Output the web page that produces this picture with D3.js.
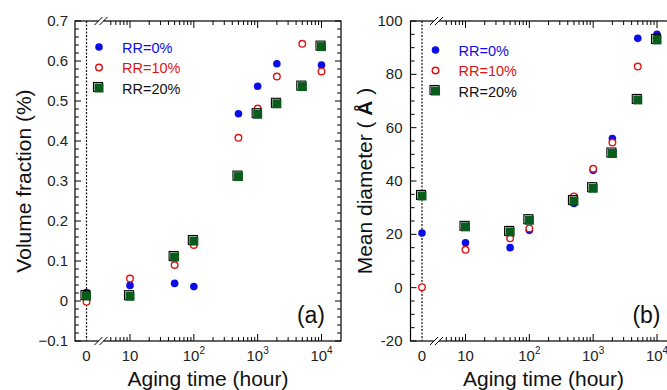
<!DOCTYPE html>
<html>
<head>
<meta charset="utf-8">
<script src="https://cdn.jsdelivr.net/npm/d3@7"></script>
<style>
  body { margin: 0; background: #fff; }
  text { font-family: Arial, "Liberation Sans", sans-serif; }
</style>
</head>
<body>
<div id="chart"></div>
<script>
// aging time (hours), 0 is drawn left of the axis break
var hours = [0, 10, 50, 100, 500, 1000, 2000, 5000, 10000];

// volume fraction (%)
var volRR0  = [0.021, 0.039, 0.044, 0.036, 0.468, 0.537, 0.593, null, 0.590];
var volRR10 = [-0.002, 0.056, 0.090, 0.140, 0.408, 0.481, 0.561, 0.643, 0.574];
var volRR20 = [0.0125, 0.012, 0.110, 0.150, 0.311, 0.467, 0.493, 0.536, 0.636];

// mean diameter (A)
var diaRR0  = [20.5, 16.8, 15.0, 21.5, 31.6, 44.0, 55.9, 93.5, 95.0];
var diaRR10 = [0.2, 14.2, 18.5, 22.2, 34.2, 44.6, 54.4, 82.9, null];
var diaRR20 = [34.4, 22.8, 20.9, 25.3, 32.5, 37.3, 50.3, 70.4, 92.9];

var seriesNames = ["RR=0%", "RR=10%", "RR=20%"];
var xMajor = [10, 100, 1000, 10000];
var volTicks = [-0.1, 0, 0.1, 0.2, 0.3, 0.4, 0.5, 0.6, 0.7];
var diaTicks = [-20, 0, 20, 40, 60, 80, 100];

var width = 667, height = 390;
var svg = d3.select("#chart").append("svg")
  .attr("width", width)
  .attr("height", height);

var blue = "#0c0ce6", red = "#dc1414", green = "#0a5c1c";

function drawPanel(o) {
  var w = 266, h = 320;
  var g = svg.append("g").attr("transform", "translate(" + o.left + ",21)");

  var xLog = d3.scaleLog().domain([10, 10000]).range([55, 246.5]);
  var zeroX = 11.5, breakX = 26;
  var x = function(d) { return d === 0 ? zeroX : xLog(d); };
  var y = d3.scaleLinear().domain(o.domain).range([h, 0]);

  // frame
  g.append("rect").attr("width", w).attr("height", h)
    .attr("fill", "none").attr("stroke", "#000").attr("stroke-width", 1.2);

  // dashed line at t = 0
  g.append("line").attr("x1", zeroX).attr("x2", zeroX).attr("y1", 0).attr("y2", h)
    .attr("stroke", "#111").attr("stroke-width", 1.2).attr("stroke-dasharray", "2,1.5");

  // log ticks (major + minor), top and bottom, pointing inward
  var minor = [];
  [1, 10, 100, 1000].forEach(function(dec) {
    for (var k = 2; k <= 9; k++) {
      var v = dec * k;
      if (xLog(v) > breakX + 6) minor.push(v);
    }
  });
  var tk = g.append("g").attr("stroke", "#000").attr("stroke-width", 1);
  xMajor.concat(minor).forEach(function(v) {
    var len = xMajor.indexOf(v) >= 0 ? 7 : 4;
    tk.append("line").attr("x1", xLog(v)).attr("x2", xLog(v)).attr("y1", h).attr("y2", h - len);
    tk.append("line").attr("x1", xLog(v)).attr("x2", xLog(v)).attr("y1", 0).attr("y2", len);
  });

  // y ticks, left and right
  y.ticks((o.domain[1] - o.domain[0]) / o.minorStep).forEach(function(v) {
    var isMajor = o.ticks.some(function(t) { return Math.abs(t - v) < 1e-9; });
    var len = isMajor ? 6 : 4;
    tk.append("line").attr("x1", 0).attr("x2", len).attr("y1", y(v)).attr("y2", y(v));
    tk.append("line").attr("x1", w).attr("x2", w - len).attr("y1", y(v)).attr("y2", y(v));
  });

  // axis break marks
  [0, h].forEach(function(yy) {
    g.append("rect").attr("x", breakX - 2.5).attr("y", yy - 1.5).attr("width", 5).attr("height", 3).attr("fill", "#fff");
    [-2.5, 2.5].forEach(function(dx) {
      g.append("line")
        .attr("x1", breakX + dx - 4).attr("y1", yy + 4)
        .attr("x2", breakX + dx + 4).attr("y2", yy - 4)
        .attr("stroke", "#000").attr("stroke-width", 1);
    });
  });

  // y tick labels
  g.selectAll(".ylab").data(o.ticks).enter().append("text")
    .attr("x", o.labelX).attr("y", function(d) { return y(d) + 5; })
    .attr("text-anchor", "end").style("font-size", "15px").attr("fill", "#222")
    .text(o.fmt);

  // x tick labels
  g.append("text").attr("x", zeroX).attr("y", 340).attr("text-anchor", "middle")
    .style("font-size", "15px").attr("fill", "#222").text("0");
  xMajor.forEach(function(v, i) {
    var t = g.append("text").attr("x", xLog(v)).attr("y", 340)
      .attr("text-anchor", "middle").style("font-size", "15px").attr("fill", "#222");
    t.append("tspan").text("10");
    if (i > 0) t.append("tspan").attr("dy", -7).style("font-size", "10px").text(i + 1);
  });

  // axis titles
  g.append("text").attr("x", w / 2).attr("y", 365).attr("text-anchor", "middle")
    .style("font-size", "21px").attr("fill", "#111").text("Aging time (hour)");
  var yt = g.append("text")
    .attr("transform", "translate(" + o.titleX + "," + (h / 2) + ") rotate(-90)")
    .attr("text-anchor", "middle").style("font-size", "21px").attr("fill", "#111");
  o.title(yt);

  // panel letter
  g.append("text").attr("x", w - 16).attr("y", 302).attr("text-anchor", "end")
    .style("font-size", "23px").attr("fill", "#111").text(o.letter);

  var pts = function(vals) {
    return hours.map(function(t, i) { return {t: t, v: vals[i]}; })
      .filter(function(d) { return d.v !== null; });
  };

  // RR=0% filled blue circles
  g.selectAll(".s0").data(pts(o.s0)).enter().append("circle")
    .attr("cx", function(d) { return x(d.t); }).attr("cy", function(d) { return y(d.v); })
    .attr("r", 3.8).attr("fill", blue);

  // RR=10% open red circles
  g.selectAll(".s1").data(pts(o.s1)).enter().append("circle")
    .attr("cx", function(d) { return x(d.t); }).attr("cy", function(d) { return y(d.v); })
    .attr("r", 3.3).attr("fill", "#fff").attr("stroke", red).attr("stroke-width", 1.4);

  // RR=20% green squares with dark offset edge
  var sq = g.selectAll(".s2").data(pts(o.s2)).enter().append("g")
    .attr("transform", function(d) { return "translate(" + x(d.t) + "," + y(d.v) + ")"; });
  drawSquare(sq);

  // legend
  var lg = g.append("g").attr("transform", "translate(" + o.legX + "," + o.legY + ")");
  var legColors = [blue, red, "#111"];
  seriesNames.forEach(function(name, i) {
    var row = lg.append("g").attr("transform", "translate(0," + (i * 20.5) + ")");
    if (i === 0) row.append("circle").attr("r", 3.8).attr("fill", blue);
    if (i === 1) row.append("circle").attr("r", 3.3).attr("fill", "#fff").attr("stroke", red).attr("stroke-width", 1.4);
    if (i === 2) drawSquare(row);
    row.append("text").attr("x", 23).attr("y", 5.5).style("font-size", "14.5px")
      .attr("fill", legColors[i]).text(name);
  });
}

function drawSquare(sel) {
  sel.append("rect").attr("x", -5.5).attr("y", -5.5).attr("width", 9).attr("height", 9)
    .attr("fill", "none").attr("stroke", "#000").attr("stroke-width", 1.1);
  sel.append("rect").attr("x", -4.5).attr("y", -4.5).attr("width", 9).attr("height", 9)
    .attr("fill", green);
}

// panel (a)
drawPanel({
  left: 75, domain: [-0.1, 0.7], ticks: volTicks, minorStep: 0.02,
  fmt: function(d) { return d === 0 ? "0" : d3.format(".1f")(d); },
  labelX: -7, titleX: -44, letter: "(a)", legX: 24, legY: 26,
  s0: volRR0, s1: volRR10, s2: volRR20,
  title: function(t) { t.text("Volume fraction (%)"); }
});

// panel (b)
drawPanel({
  left: 410.5, domain: [-20, 100], ticks: diaTicks, minorStep: 4,
  fmt: function(d) { return d; },
  labelX: -8, titleX: -38.5, letter: "(b)", legX: 25, legY: 29,
  s0: diaRR0, s1: diaRR10, s2: diaRR20,
  title: function(t) {
    t.append("tspan").text("Mean diameter ( ");
    t.append("tspan").style("font-weight", "bold").text("Å");
    t.append("tspan").text(" )");
  }
});
</script>
</body>
</html>
